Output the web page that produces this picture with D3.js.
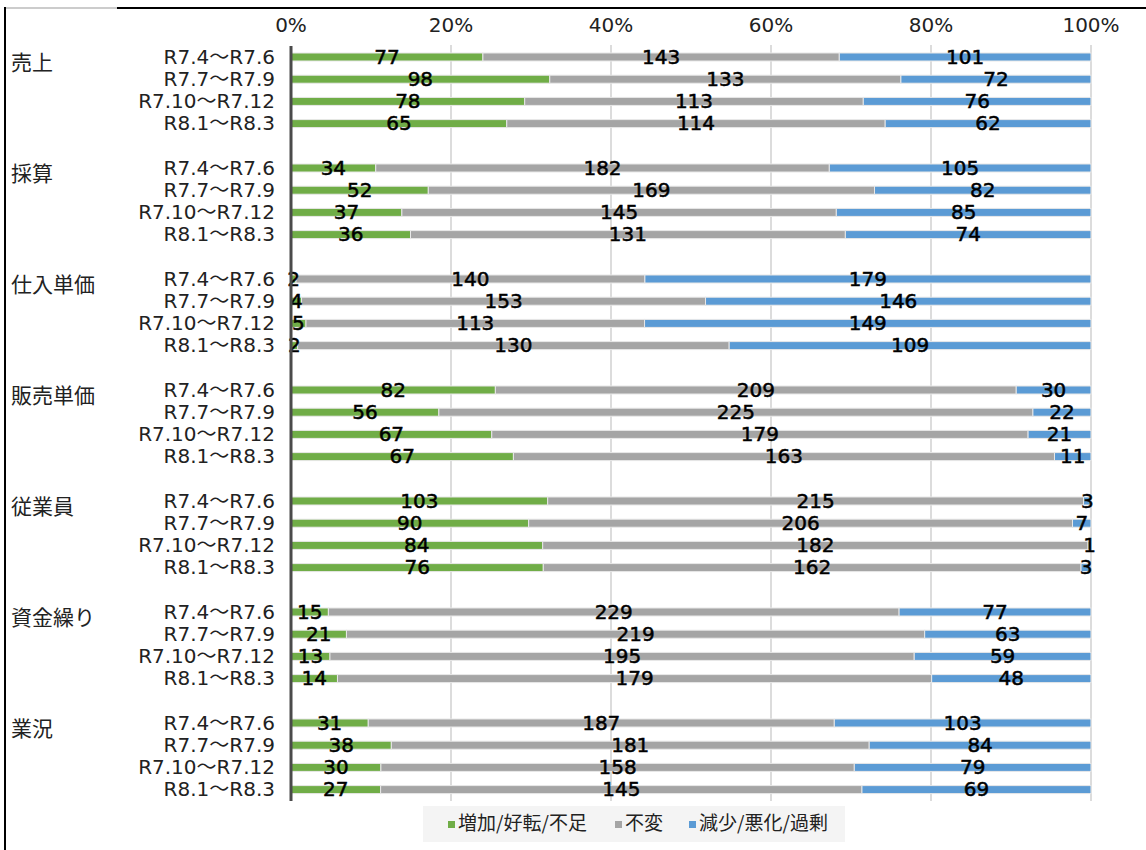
<!DOCTYPE html>
<html lang="ja">
<head>
<meta charset="utf-8">
<script src="https://cdn.jsdelivr.net/npm/d3@7"></script>
<style>
  html, body { margin: 0; padding: 0; background: #fff; }
  svg { display: block; font-family: "DejaVu Sans", "Noto Sans CJK JP", sans-serif; }
  .jp { font-family: "Noto Sans CJK JP", "DejaVu Sans", sans-serif; }
</style>
</head>
<body>
<svg id="chart" width="1146" height="850"></svg>
<script>
// Survey items (groups) and periods
const groups = ["売上", "採算", "仕入単価", "販売単価", "従業員", "資金繰り", "業況"];
const periods = ["R7.4～R7.6", "R7.7～R7.9", "R7.10～R7.12", "R8.1～R8.3"];
const seriesNames = ["増加/好転/不足", "不変", "減少/悪化/過剰"];
const tickLabels = ["0%", "20%", "40%", "60%", "80%", "100%"];

// Response counts per group, one entry per period
const increase = [
  [77, 98, 78, 65],
  [34, 52, 37, 36],
  [2, 4, 5, 2],
  [82, 56, 67, 67],
  [103, 90, 84, 76],
  [15, 21, 13, 14],
  [31, 38, 30, 27]
];
const unchanged = [
  [143, 133, 113, 114],
  [182, 169, 145, 131],
  [140, 153, 113, 130],
  [209, 225, 179, 163],
  [215, 206, 182, 162],
  [229, 219, 195, 179],
  [187, 181, 158, 145]
];
const decrease = [
  [101, 72, 76, 62],
  [105, 82, 85, 74],
  [179, 146, 149, 109],
  [30, 22, 21, 11],
  [3, 7, 1, 3],
  [77, 63, 59, 48],
  [103, 84, 79, 69]
];

const colors = ["#70ad47", "#a5a5a5", "#5b9bd5"];

const svg = d3.select("#chart");

// Frame lines
svg.append("line").attr("x1", 5).attr("x2", 117).attr("y1", 8).attr("y2", 8)
  .attr("stroke", "#999").attr("stroke-width", 1);
svg.append("line").attr("x1", 117).attr("x2", 1146).attr("y1", 8).attr("y2", 8)
  .attr("stroke", "#000").attr("stroke-width", 2);
svg.append("line").attr("x1", 5).attr("x2", 5).attr("y1", 7).attr("y2", 850)
  .attr("stroke", "#000").attr("stroke-width", 2);

const x = d3.scaleLinear().domain([0, 1]).range([291, 1091]);
const yGroup = d3.scaleBand().domain(groups).range([45.9, 800.7]).paddingInner(0.2).paddingOuter(0);
const yPeriod = d3.scaleBand().domain(periods).range([0, yGroup.bandwidth()]);
const barH = 8;

// Gridlines
svg.append("g").selectAll("line")
  .data(d3.range(0.2, 1.01, 0.2))
  .join("line")
  .attr("x1", d => x(d)).attr("x2", d => x(d))
  .attr("y1", 45).attr("y2", 801)
  .attr("stroke", "#d0d0d0").attr("stroke-width", 1.5);

// Top axis tick labels
svg.append("g").selectAll("text")
  .data(tickLabels)
  .join("text")
  .attr("x", (d, i) => x(i * 0.2))
  .attr("y", 26)
  .attr("text-anchor", "middle")
  .attr("dominant-baseline", "middle")
  .attr("font-size", 20)
  .attr("fill", "#222")
  .text(d => d);

// Build rows
const rows = [];
groups.forEach((g, gi) => {
  periods.forEach((p, pi) => {
    const vals = [increase[gi][pi], unchanged[gi][pi], decrease[gi][pi]];
    const total = d3.sum(vals);
    let acc = 0;
    const segs = vals.map((v, si) => {
      const s = { group: g, period: p, series: si, value: v, x0: acc / total, x1: (acc + v) / total };
      acc += v;
      return s;
    });
    rows.push({ group: g, period: p, segs });
  });
});

const rowY = r => yGroup(r.group) + yPeriod(r.period) + yPeriod.bandwidth() / 2;

// Bars
const rowG = svg.append("g").selectAll("g")
  .data(rows)
  .join("g")
  .attr("transform", r => `translate(0,${rowY(r)})`);

rowG.selectAll("rect")
  .data(r => r.segs)
  .join("rect")
  .attr("x", d => x(d.x0))
  .attr("width", d => Math.max(0, x(d.x1) - x(d.x0)))
  .attr("y", -barH / 2)
  .attr("height", barH)
  .attr("fill", d => colors[d.series])
  .attr("stroke", "#e8e8e8")
  .attr("stroke-width", 1);

// Value labels
rowG.selectAll("text.val")
  .data(r => r.segs)
  .join("text")
  .attr("class", "val")
  .attr("x", d => (x(d.x0) + x(d.x1)) / 2)
  .attr("y", 1)
  .attr("text-anchor", "middle")
  .attr("dominant-baseline", "middle")
  .attr("font-size", 20)
  .attr("fill", "#000")
  .attr("stroke", "#000")
  .attr("stroke-width", 0.5)
  .text(d => d.value);

// Period labels
svg.append("g").selectAll("text")
  .data(rows)
  .join("text")
  .attr("x", 275)
  .attr("y", r => rowY(r) + 1)
  .attr("text-anchor", "end")
  .attr("dominant-baseline", "middle")
  .attr("font-size", 20)
  .attr("fill", "#222")
  .text(r => r.period);

// Group labels
svg.append("g").selectAll("text")
  .data(groups)
  .join("text")
  .attr("class", "jp")
  .attr("x", 11)
  .attr("y", g => yGroup(g) + 18)
  .attr("dominant-baseline", "middle")
  .attr("font-size", 21)
  .attr("fill", "#222")
  .text(g => g);

// Category axis line
svg.append("line")
  .attr("x1", x(0)).attr("x2", x(0))
  .attr("y1", 46).attr("y2", 801)
  .attr("stroke", "#4a4a4a").attr("stroke-width", 3);

// Legend
const legend = svg.append("g");
legend.append("rect")
  .attr("x", 423).attr("y", 806).attr("width", 422).attr("height", 36)
  .attr("fill", "#f4f4f4");
const legendX = [448, 615, 689];
const items = legend.selectAll("g")
  .data(seriesNames)
  .join("g")
  .attr("transform", (d, i) => `translate(${legendX[i]},825)`);
items.append("rect")
  .attr("x", 0).attr("y", -4).attr("width", 7).attr("height", 7)
  .attr("fill", (d, i) => colors[i]);
items.append("text")
  .attr("class", "jp")
  .attr("x", 10).attr("y", 0)
  .attr("dominant-baseline", "middle")
  .attr("font-size", 19)
  .attr("fill", "#222")
  .text(d => d);
</script>
</body>
</html>
